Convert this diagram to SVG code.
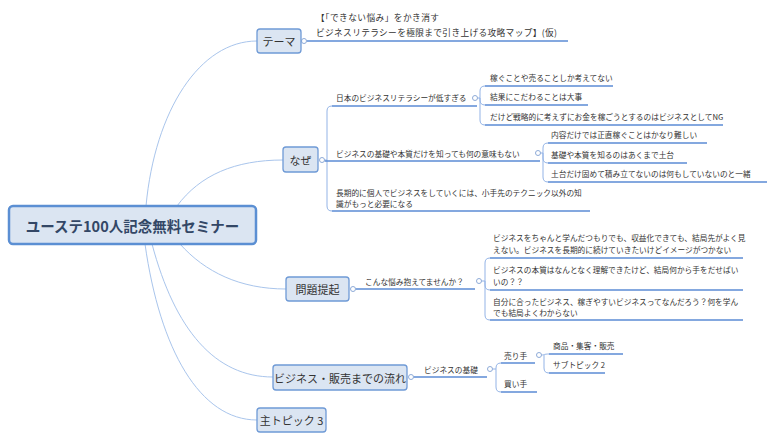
<svg xmlns="http://www.w3.org/2000/svg" width="776" height="441" viewBox="0 0 776 441">
<style>
text{font-family:"Noto Sans CJK JP","Liberation Sans",sans-serif;fill:#333;dominant-baseline:central}
.main rect{fill:#dbe5f2;stroke:#5b8fd3;stroke-width:2.5}
.main text{font-size:14.5px;font-weight:bold;fill:#334766;text-anchor:middle}
.topic rect{fill:#dbe5f2;stroke:#6f9ad6;stroke-width:1.3}
.topic text{font-size:11px;text-anchor:middle}
.sub text{font-size:7.7px}
.title text{font-size:8.7px}
.mc{fill:none;stroke:#a9c5ec;stroke-width:1}
.br{fill:none;stroke:#93b3e6;stroke-width:1}
.ul{fill:none;stroke:#5b8bd4;stroke-width:1.5}
.dot{fill:#fff;stroke:#8eabd8;stroke-width:1}
</style>
<rect width="776" height="441" fill="#fff"/>
<g id="connectors">
<path class="mc" d="M146,206 C155,110 200,41 257,41"/>
<path class="mc" d="M177,206 C200,175 235,160 283,160"/>
<path class="mc" d="M180,244 C205,272 240,289 286,289"/>
<path class="mc" d="M152,244 C175,330 215,377 273,377"/>
<path class="mc" d="M145,244 C160,350 200,420 257,420"/>
<path class="ul" d="M306.5,41 H568"/>
<path class="br" d="M324.5,160 H327 V111 Q327,106 332,106"/>
<path class="br" d="M327,160 V206 Q327,211 332,211"/>
<path class="ul" d="M332,106 H477"/>
<path class="ul" d="M324.5,161 H540"/>
<path class="ul" d="M332,211 H590"/>
<path class="br" d="M477.5,98 H480 V91 Q480,86 485,86"/>
<path class="br" d="M480,98 V100 Q480,105 485,105"/>
<path class="br" d="M480,98 V120 Q480,125 485,125"/>
<path class="ul" d="M485,86 H613"/>
<path class="ul" d="M485,105 H588"/>
<path class="ul" d="M485,125 H723"/>
<path class="br" d="M540.5,153 H543 V148 Q543,143 548,143"/>
<path class="br" d="M543,153 V158 Q543,163 548,163"/>
<path class="br" d="M543,153 V177 Q543,182 548,182"/>
<path class="ul" d="M548,143 H707"/>
<path class="ul" d="M548,163 H687"/>
<path class="ul" d="M548,182 H767"/>
<path class="ul" d="M355.5,289 H475"/>
<path class="br" d="M481.5,281 H485 V263 Q485,258 490,258"/>
<path class="br" d="M485,281 V285 Q485,290 490,290"/>
<path class="br" d="M485,281 V315 Q485,320 490,320"/>
<path class="ul" d="M490,258 H743"/>
<path class="ul" d="M490,290 H743"/>
<path class="ul" d="M490,320 H743"/>
<path class="ul" d="M413.5,377 H487"/>
<path class="br" d="M492.5,369 H496 V368 Q496,363 501,363"/>
<path class="br" d="M496,369 V387 Q496,392 501,392"/>
<path class="ul" d="M501,363 H535"/>
<path class="ul" d="M501,392 H537"/>
<path class="br" d="M541.5,355 C544,355 544,354 549,354"/>
<path class="br" d="M544,355 V368 Q544,373 549,373"/>
<path class="ul" d="M549,354 H623"/>
<path class="ul" d="M549,373 H605"/>
<circle class="dot" cx="304" cy="41" r="2.5"/>
<circle class="dot" cx="322" cy="160" r="2.5"/>
<circle class="dot" cx="475" cy="98" r="2.5"/>
<circle class="dot" cx="538" cy="153" r="2.5"/>
<circle class="dot" cx="353" cy="289" r="2.5"/>
<circle class="dot" cx="479" cy="281" r="2.5"/>
<circle class="dot" cx="411" cy="377" r="2.5"/>
<circle class="dot" cx="490" cy="369" r="2.5"/>
<circle class="dot" cx="539" cy="355" r="2.5"/>
</g>
<g id="main" class="main"><rect x="9" y="206" width="247" height="38" rx="4"/><text x="132.5" y="225">ユーステ100人記念無料セミナー</text></g>
<g id="t-theme" class="topic"><rect x="257" y="29" width="44" height="24" rx="3"/><text x="279" y="41">テーマ</text></g>
<g id="t-naze" class="topic"><rect x="283" y="147" width="35" height="25" rx="3"/><text x="300.5" y="159.5">なぜ</text></g>
<g id="t-mondai" class="topic"><rect x="286" y="277" width="63" height="24" rx="3"/><text x="317.5" y="289">問題提起</text></g>
<g id="t-flow" class="topic"><rect x="273" y="365" width="134" height="25" rx="3"/><text x="340" y="377.5">ビジネス・販売までの流れ</text></g>
<g id="t-main3" class="topic"><rect x="257" y="408" width="69" height="24" rx="3"/><text x="291.5" y="420">主トピック 3</text></g>
<g id="s-title" class="title"><text x="316" y="17" textLength="123" lengthAdjust="spacing">【「できない悩み」をかき消す</text><text x="316" y="32" textLength="241" lengthAdjust="spacing">ビジネスリテラシーを極限まで引き上げる攻略マップ】(仮)</text></g>
<g id="s-nihon" class="sub"><text x="336" y="97">日本のビジネスリテラシーが低すぎる</text></g>
<g id="s-kasegu" class="sub"><text x="490" y="77">稼ぐことや売ることしか考えてない</text></g>
<g id="s-kekka" class="sub"><text x="490" y="96">結果にこだわることは大事</text></g>
<g id="s-dakedo" class="sub"><text x="490" y="116">だけど戦略的に考えずにお金を稼ごうとするのはビジネスとしてNG</text></g>
<g id="s-kiso" class="sub"><text x="336" y="153">ビジネスの基礎や本質だけを知っても何の意味もない</text></g>
<g id="s-naiyou" class="sub"><text x="551" y="134">内容だけでは正直稼ぐことはかなり難しい</text></g>
<g id="s-dodai1" class="sub"><text x="551" y="154">基礎や本質を知るのはあくまで土台</text></g>
<g id="s-dodai2" class="sub"><text x="551" y="173">土台だけ固めて積み立てないのは何もしていないのと一緒</text></g>
<g id="s-chouki" class="sub"><text x="336" y="192">長期的に個人でビジネスをしていくには、小手先のテクニック以外の知</text><text x="336" y="203">識がもっと必要になる</text></g>
<g id="s-konna" class="sub"><text x="365" y="281">こんな悩み抱えてませんか？</text></g>
<g id="s-p1" class="sub"><text x="493" y="237">ビジネスをちゃんと学んだつもりでも、収益化できても、結局先がよく見</text><text x="493" y="249">えない。ビジネスを長期的に続けていきたいけどイメージがつかない</text></g>
<g id="s-p2" class="sub"><text x="493" y="269">ビジネスの本質はなんとなく理解できたけど、結局何から手をだせばい</text><text x="493" y="281">いの？？</text></g>
<g id="s-p3" class="sub"><text x="493" y="301">自分に合ったビジネス、稼ぎやすいビジネスってなんだろう？何を学ん</text><text x="493" y="312">でも結局よくわからない</text></g>
<g id="s-bkiso" class="sub"><text x="424" y="369">ビジネスの基礎</text></g>
<g id="s-urite" class="sub"><text x="504" y="355">売り手</text></g>
<g id="s-kaite" class="sub"><text x="504" y="383">買い手</text></g>
<g id="s-shouhin" class="sub"><text x="553" y="345">商品・集客・販売</text></g>
<g id="s-sub2" class="sub"><text x="553" y="364">サブトピック 2</text></g>
</svg>
